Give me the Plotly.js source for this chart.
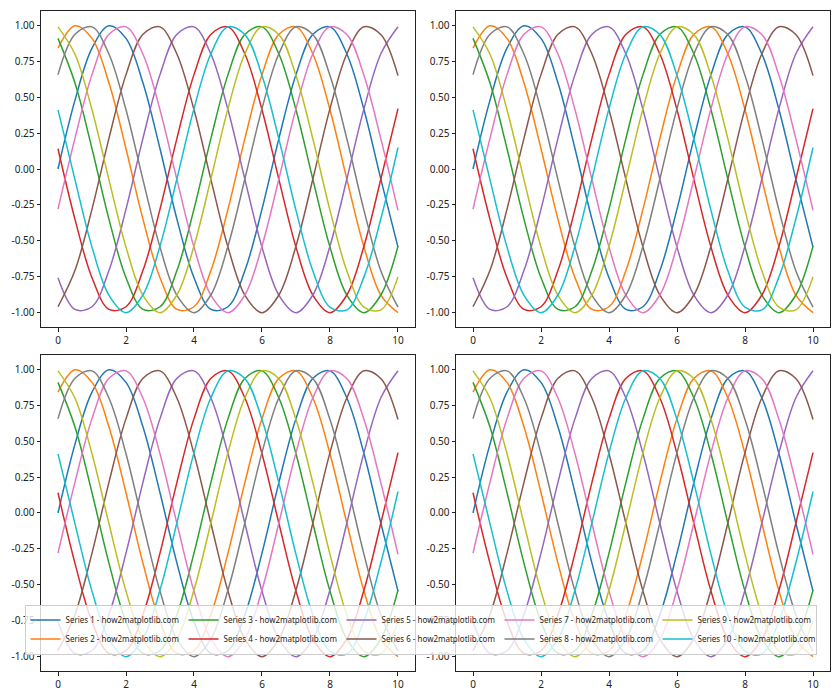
<!DOCTYPE html>
<html>
<head>
<meta charset="utf-8">
<script src="https://cdn.plot.ly/plotly-3.0.1.min.js"></script>
<style>html,body{margin:0;padding:0;background:#fff;}#chart{width:840px;height:700px;}</style>
</head>
<body>
<div id="chart"></div>
<script>
// x samples
const xValues = [0,0.5,1,1.5,2,2.5,3,3.5,4,4.5,5,5.5,6,6.5,7,7.5,8,8.5,9,9.5,10];

// series values
const series1  = [0,0.4794,0.8415,0.9975,0.9093,0.5985,0.1411,-0.3508,-0.7568,-0.9775,-0.9589,-0.7055,-0.2794,0.2151,0.6570,0.9380,0.9894,0.7985,0.4121,-0.0752,-0.5440];
const series2  = [0.8415,0.9975,0.9093,0.5985,0.1411,-0.3508,-0.7568,-0.9775,-0.9589,-0.7055,-0.2794,0.2151,0.6570,0.9380,0.9894,0.7985,0.4121,-0.0752,-0.5440,-0.8797,-1.0000];
const series3  = [0.9093,0.5985,0.1411,-0.3508,-0.7568,-0.9775,-0.9589,-0.7055,-0.2794,0.2151,0.6570,0.9380,0.9894,0.7985,0.4121,-0.0752,-0.5440,-0.8797,-1.0000,-0.8755,-0.5366];
const series4  = [0.1411,-0.3508,-0.7568,-0.9775,-0.9589,-0.7055,-0.2794,0.2151,0.6570,0.9380,0.9894,0.7985,0.4121,-0.0752,-0.5440,-0.8797,-1.0000,-0.8755,-0.5366,-0.0663,0.4202];
const series5  = [-0.7568,-0.9775,-0.9589,-0.7055,-0.2794,0.2151,0.6570,0.9380,0.9894,0.7985,0.4121,-0.0752,-0.5440,-0.8797,-1.0000,-0.8755,-0.5366,-0.0663,0.4202,0.8038,0.9906];
const series6  = [-0.9589,-0.7055,-0.2794,0.2151,0.6570,0.9380,0.9894,0.7985,0.4121,-0.0752,-0.5440,-0.8797,-1.0000,-0.8755,-0.5366,-0.0663,0.4202,0.8038,0.9906,0.9349,0.6503];
const series7  = [-0.2794,0.2151,0.6570,0.9380,0.9894,0.7985,0.4121,-0.0752,-0.5440,-0.8797,-1.0000,-0.8755,-0.5366,-0.0663,0.4202,0.8038,0.9906,0.9349,0.6503,0.2065,-0.2879];
const series8  = [0.6570,0.9380,0.9894,0.7985,0.4121,-0.0752,-0.5440,-0.8797,-1.0000,-0.8755,-0.5366,-0.0663,0.4202,0.8038,0.9906,0.9349,0.6503,0.2065,-0.2879,-0.7118,-0.9614];
const series9  = [0.9894,0.7985,0.4121,-0.0752,-0.5440,-0.8797,-1.0000,-0.8755,-0.5366,-0.0663,0.4202,0.8038,0.9906,0.9349,0.6503,0.2065,-0.2879,-0.7118,-0.9614,-0.9802,-0.7510];
const series10 = [0.4121,-0.0752,-0.5440,-0.8797,-1.0000,-0.8755,-0.5366,-0.0663,0.4202,0.8038,0.9906,0.9349,0.6503,0.2065,-0.2879,-0.7118,-0.9614,-0.9802,-0.7510,-0.3425,0.1499];

const seriesNames = ["Series 1 - how2matplotlib.com","Series 2 - how2matplotlib.com","Series 3 - how2matplotlib.com","Series 4 - how2matplotlib.com","Series 5 - how2matplotlib.com","Series 6 - how2matplotlib.com","Series 7 - how2matplotlib.com","Series 8 - how2matplotlib.com","Series 9 - how2matplotlib.com","Series 10 - how2matplotlib.com"];
const colors = ["#1f77b4","#ff7f0e","#2ca02c","#d62728","#9467bd","#8c564b","#e377c2","#7f7f7f","#bcbd22","#17becf"];
const xTickVals = [0,2,4,6,8,10];
const xTickLabels = ["0","2","4","6","8","10"];
const yTickVals = [-1,-0.75,-0.5,-0.25,0,0.25,0.5,0.75,1];
const yTickLabels = ["-1.00","-0.75","-0.50","-0.25","0.00","0.25","0.50","0.75","1.00"];

const allSeries = [series1,series2,series3,series4,series5,series6,series7,series8,series9,series10];
const legendRanks = [1,6,2,7,3,8,4,9,5,10];
const axesPairs = [["x","y"],["x2","y2"],["x3","y3"],["x4","y4"]];

const traces = [];
axesPairs.forEach((p, a) => {
  allSeries.forEach((ys, i) => {
    traces.push({
      x: xValues, y: ys, type: "scatter", mode: "lines",
      name: seriesNames[i],
      line: {color: colors[i], width: 1.5, shape: "spline", smoothing: 1},
      xaxis: p[0], yaxis: p[1],
      showlegend: a === 0,
      legendrank: legendRanks[i],
      hoverinfo: "skip"
    });
  });
});

const tickFont = {family: "Noto Sans, DejaVu Sans, sans-serif", size: 10, color: "#222"};
function xax(domain, anchor) {
  return {domain: domain, anchor: anchor, range: [-0.5, 10.5], tickvals: xTickVals, ticktext: xTickLabels,
    showgrid: false, zeroline: false, showline: true, mirror: true, linecolor: "#222", linewidth: 1,
    ticks: "outside", ticklen: 3.5, tickwidth: 1, tickcolor: "#222", tickfont: tickFont, automargin: false};
}
function yax(domain, anchor) {
  return {domain: domain, anchor: anchor, range: [-1.1, 1.1], tickvals: yTickVals, ticktext: yTickLabels,
    showgrid: false, zeroline: false, showline: true, mirror: true, linecolor: "#222", linewidth: 1,
    ticks: "outside", ticklen: 3.5, tickwidth: 1, tickcolor: "#222", tickfont: tickFont, automargin: false};
}

const xL = [0, 0.474], xR = [0.526, 1];
const yT = [0.5212, 1], yB = [0, 0.4788];

const layout = {
  width: 840, height: 700,
  margin: {l: 41, r: 10, t: 11, b: 29, autoexpand: false},
  paper_bgcolor: "#fff", plot_bgcolor: "#fff",
  showlegend: true,
  xaxis: xax(xL, "y"), yaxis: yax(yT, "x"),
  xaxis2: xax(xR, "y2"), yaxis2: yax(yT, "x2"),
  xaxis3: xax(xL, "y3"), yaxis3: yax(yB, "x3"),
  xaxis4: xax(xR, "y4"), yaxis4: yax(yB, "x4"),
  legend: {
    orientation: "h", xref: "container", yref: "container",
    x: 0.5006, xanchor: "center", y: 0.1007, yanchor: "middle",
    bgcolor: "rgba(255,255,255,0.8)", bordercolor: "#cccccc", borderwidth: 1,
    font: {family: "Noto Sans, DejaVu Sans, sans-serif", size: 8, color: "#222"},
    entrywidth: 113, entrywidthmode: "pixels", itemwidth: 30, tracegroupgap: 0
  }
};

Plotly.newPlot("chart", traces, layout, {staticPlot: true, displayModeBar: false});
</script>
</body>
</html>
